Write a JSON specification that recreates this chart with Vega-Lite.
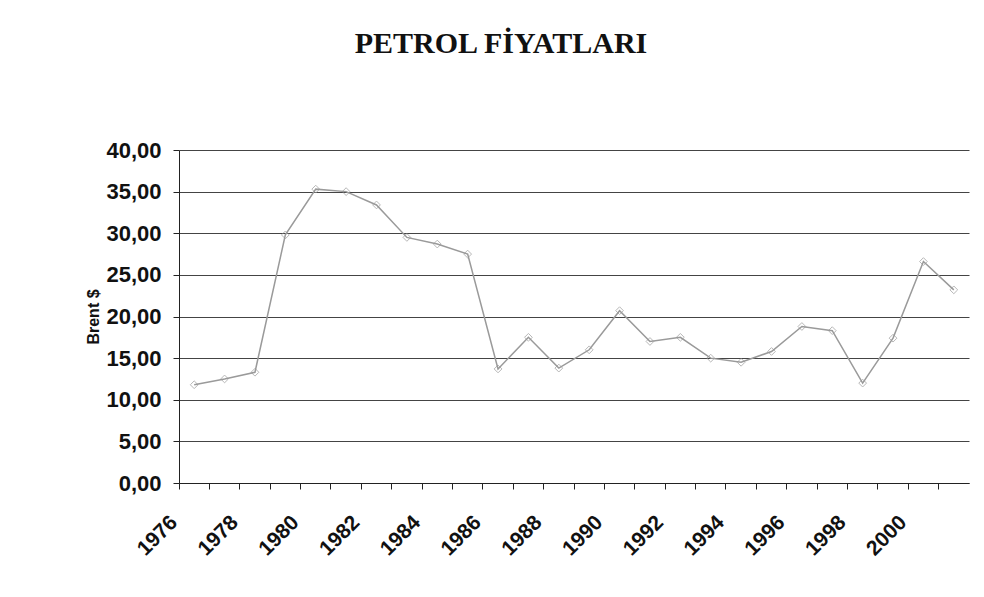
{
  "$schema": "https://vega.github.io/schema/vega-lite/v6.json",
  "autosize": {"type": "none"},
  "width": 790,
  "height": 333,
  "padding": {"left": 179, "top": 150, "right": 15, "bottom": 114},
  "background": "white",
  "config": {"view": {"stroke": null}},
  "title": {
    "text": "PETROL FİYATLARI",
    "font": "Liberation Serif",
    "fontSize": 30,
    "fontWeight": "bold",
    "color": "#111",
    "anchor": "middle",
    "dx": -73,
    "baseline": "alphabetic",
    "offset": 56
  },
  "data": {
    "values": [
      {"year": 1976, "brent": 11.8},
      {"year": 1977, "brent": 12.5},
      {"year": 1978, "brent": 13.3},
      {"year": 1979, "brent": 29.8},
      {"year": 1980, "brent": 35.3},
      {"year": 1981, "brent": 35.0},
      {"year": 1982, "brent": 33.4},
      {"year": 1983, "brent": 29.5},
      {"year": 1984, "brent": 28.7},
      {"year": 1985, "brent": 27.5},
      {"year": 1986, "brent": 13.7},
      {"year": 1987, "brent": 17.5},
      {"year": 1988, "brent": 13.8},
      {"year": 1989, "brent": 16.0},
      {"year": 1990, "brent": 20.7},
      {"year": 1991, "brent": 17.0},
      {"year": 1992, "brent": 17.5},
      {"year": 1993, "brent": 15.0},
      {"year": 1994, "brent": 14.5},
      {"year": 1995, "brent": 15.8},
      {"year": 1996, "brent": 18.8},
      {"year": 1997, "brent": 18.3},
      {"year": 1998, "brent": 12.0},
      {"year": 1999, "brent": 17.4},
      {"year": 2000, "brent": 26.6},
      {"year": 2001, "brent": 23.2}
    ]
  },
  "encoding": {
    "x": {
      "field": "year",
      "type": "ordinal",
      "sort": "ascending",
      "scale": {"type": "band", "paddingInner": 0, "paddingOuter": 0},
      "axis": {
        "title": null,
        "bandPosition": 0,
        "labelExpr": "datum.value % 2 == 0 ? datum.label : ''",
        "labelAngle": -45,
        "labelAlign": "right",
        "labelBaseline": "middle",
        "labelOffset": -20,
        "labelPadding": 30,
        "labelFont": "Liberation Sans",
        "labelFontSize": 21,
        "labelFontWeight": "bold",
        "labelColor": "#111",
        "labelOverlap": false,
        "domainColor": "#222",
        "tickColor": "#222",
        "tickSize": 6,
        "grid": false
      }
    },
    "y": {
      "field": "brent",
      "type": "quantitative",
      "scale": {"domain": [0, 40], "nice": false},
      "axis": {
        "title": "Brent $",
        "titleFont": "Liberation Sans",
        "titleFontSize": 16,
        "titleFontWeight": "bold",
        "titleColor": "#111",
        "titlePadding": 4,
        "values": [0, 5, 10, 15, 20, 25, 30, 35, 40],
        "labelExpr": "replace(format(datum.value, '.2f'), '.', ',')",
        "labelFont": "Liberation Sans",
        "labelFontSize": 22,
        "labelFontWeight": "bold",
        "labelColor": "#111",
        "labelPadding": 12,
        "domainColor": "#222",
        "tickColor": "#222",
        "tickSize": 6,
        "grid": true,
        "gridColor": "#444",
        "gridWidth": 1
      }
    }
  },
  "layer": [
    {
      "mark": {"type": "line", "color": "#9a9a9a", "strokeWidth": 1.5}
    },
    {
      "mark": {"type": "point", "shape": "diamond", "filled": false, "color": "#9a9a9a", "size": 60, "strokeWidth": 1}
    }
  ]
}
